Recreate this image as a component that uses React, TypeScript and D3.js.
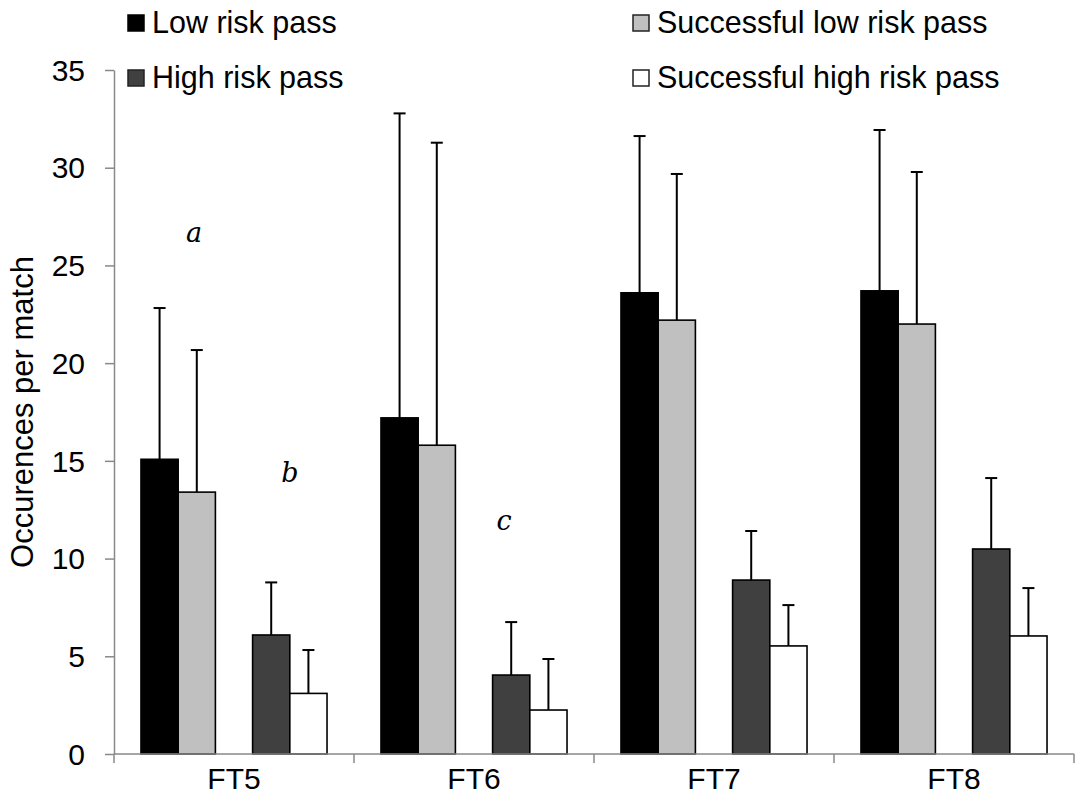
import React, { useEffect, useRef } from 'react'
import * as d3 from 'd3'

// data
const categories = ['FT5', 'FT6', 'FT7', 'FT8']
const seriesNames = ['Low risk pass', 'High risk pass', 'Successful low risk pass', 'Successful high risk pass']
const seriesColors = ['#000000', '#404040', '#c0c0c0', '#ffffff']
// slot order inside a group (one empty slot between the pairs)
const slots = ['Low risk pass', 'Successful low risk pass', 'gap', 'High risk pass', 'Successful high risk pass']

const lowRisk = [15.08, 17.2, 23.6, 23.7]
const lowRiskErr = [22.82, 32.78, 31.62, 31.93]
const succLowRisk = [13.4, 15.8, 22.2, 22.0]
const succLowRiskErr = [20.67, 31.28, 29.68, 29.78]
const highRisk = [6.09, 4.04, 8.9, 10.49]
const highRiskErr = [8.78, 6.75, 11.41, 14.12]
const succHighRisk = [3.1, 2.25, 5.53, 6.04]
const succHighRiskErr = [5.32, 4.86, 7.62, 8.49]

const yTicks = [0, 5, 10, 15, 20, 25, 30, 35]

const annotations = [
  { text: 'a', cat: 'FT5', dx: 80, value: 26.2 },
  { text: 'b', cat: 'FT5', dx: 176, value: 13.92 },
  { text: 'c', cat: 'FT6', dx: 150, value: 11.46 },
]

export default function App() {
  const ref = useRef<SVGSVGElement>(null)

  useEffect(() => {
    const svg = d3.select(ref.current)
    svg.selectAll('*').remove()

    const margin = { top: 70, right: 1, bottom: 51, left: 114 }
    const width = 1075, height = 805
    const font = '"Liberation Sans", Arial, sans-serif'
    const axisColor = '#898989'

    const values: Record<string, number[]> = {
      'Low risk pass': lowRisk,
      'Successful low risk pass': succLowRisk,
      'High risk pass': highRisk,
      'Successful high risk pass': succHighRisk,
    }
    const errs: Record<string, number[]> = {
      'Low risk pass': lowRiskErr,
      'Successful low risk pass': succLowRiskErr,
      'High risk pass': highRiskErr,
      'Successful high risk pass': succHighRiskErr,
    }

    const x0 = d3.scaleBand().domain(categories).range([margin.left, width - margin.right]).padding(0)
    const x1 = d3.scaleBand().domain(slots).range([0, x0.bandwidth()]).paddingInner(0).paddingOuter(0.725)
    const y = d3.scaleLinear().domain([0, 35]).range([height - margin.bottom, margin.top])

    const color = d3.scaleOrdinal<string, string>().domain(seriesNames).range(seriesColors)

    const bars = categories.flatMap((c, i) =>
      seriesNames.map(s => ({ cat: c, series: s, value: values[s][i], err: errs[s][i] })))

    // error bars (upper only) drawn under the bars
    const eb = svg.append('g')
    bars.forEach(d => {
      const cx = (x0(d.cat) as number) + (x1(d.series) as number) + x1.bandwidth() / 2
      eb.append('line')
        .attr('x1', cx).attr('x2', cx)
        .attr('y1', y(d.value)).attr('y2', y(d.err))
        .attr('stroke', '#000').attr('stroke-width', 2)
      eb.append('line')
        .attr('x1', cx - 6).attr('x2', cx + 6)
        .attr('y1', y(d.err)).attr('y2', y(d.err))
        .attr('stroke', '#000').attr('stroke-width', 2)
    })

    svg.append('g').selectAll('rect')
      .data(bars)
      .enter().append('rect')
      .attr('x', d => (x0(d.cat) as number) + (x1(d.series) as number))
      .attr('width', x1.bandwidth())
      .attr('y', d => y(d.value))
      .attr('height', d => y(0) - y(d.value))
      .attr('fill', d => color(d.series))
      .attr('stroke', '#000')
      .attr('stroke-width', 1.6)

    // y axis
    const yAxis = svg.append('g')
      .attr('transform', `translate(${margin.left},0)`)
      .call(d3.axisLeft(y).tickValues(yTicks).tickSize(9).tickPadding(20).tickSizeOuter(0))
    yAxis.select('.domain').attr('stroke', axisColor).attr('stroke-width', 1.5)
    yAxis.selectAll('line').attr('stroke', axisColor).attr('stroke-width', 1.5)
    yAxis.selectAll('text').attr('font-family', font).attr('font-size', 30).attr('fill', '#000')
      .attr('dy', '0.34em')

    // x axis
    const xAxisG = svg.append('g').attr('transform', `translate(0,${y(0)})`)
    xAxisG.append('line')
      .attr('x1', margin.left).attr('x2', width - margin.right)
      .attr('stroke', axisColor).attr('stroke-width', 1.5)
    const boundaries = categories.map(c => x0(c) as number).concat([width - margin.right])
    xAxisG.selectAll('.tick')
      .data(boundaries)
      .enter().append('line')
      .attr('x1', d => d).attr('x2', d => d)
      .attr('y1', 0).attr('y2', 9)
      .attr('stroke', axisColor).attr('stroke-width', 1.5)
    xAxisG.selectAll('.lbl')
      .data(categories)
      .enter().append('text')
      .attr('x', d => (x0(d) as number) + x0.bandwidth() / 2)
      .attr('y', 35)
      .attr('text-anchor', 'middle')
      .attr('font-family', font).attr('font-size', 30)
      .text(d => d)

    // y axis title
    svg.append('text')
      .attr('transform', `translate(33,${(y(0) + y(35)) / 2}) rotate(-90)`)
      .attr('text-anchor', 'middle')
      .attr('font-family', font).attr('font-size', 31)
      .text('Occurences per match')

    // annotations
    svg.append('g').selectAll('text')
      .data(annotations)
      .enter().append('text')
      .attr('x', d => (x0(d.cat) as number) + d.dx)
      .attr('y', d => y(d.value))
      .attr('text-anchor', 'middle')
      .attr('font-family', '"DejaVu Serif", "Liberation Serif", serif')
      .attr('font-style', 'italic')
      .attr('font-size', 27)
      .text(d => d.text)

    // legend
    const legendItems = [
      { name: 'Low risk pass', x: 127, y: 33 },
      { name: 'High risk pass', x: 127, y: 88 },
      { name: 'Successful low risk pass', x: 632, y: 33 },
      { name: 'Successful high risk pass', x: 632, y: 88 },
    ]
    const lg = svg.append('g').selectAll('g')
      .data(legendItems)
      .enter().append('g')
      .attr('transform', d => `translate(${d.x},${d.y})`)
    lg.append('rect')
      .attr('x', 1).attr('y', -18)
      .attr('width', 16).attr('height', 16)
      .attr('fill', d => color(d.name))
      .attr('stroke', d => d.name === 'Low risk pass' ? '#000' : '#222')
      .attr('stroke-width', 1.5)
    lg.append('text')
      .attr('x', 25).attr('y', 0)
      .attr('font-family', font).attr('font-size', 30.5)
      .text(d => d.name)
  }, [])

  return (
    <svg ref={ref} width={1075} height={805}
      style={{ position: 'absolute', left: 0, top: 0, background: '#fff' }} />
  )
}
